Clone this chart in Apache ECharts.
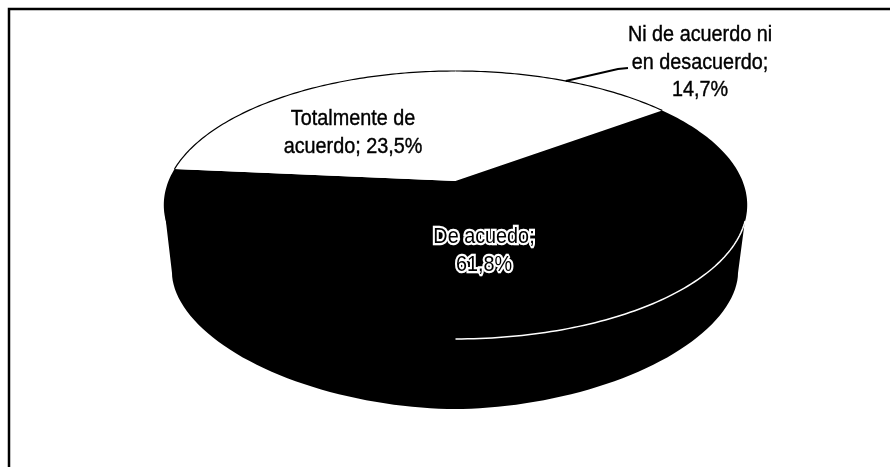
<!DOCTYPE html>
<html><head><meta charset="utf-8">
<style>html,body{margin:0;padding:0;background:#fff}#c{width:890px;height:467px}</style>
<script src="https://cdn.jsdelivr.net/npm/echarts@6/dist/echarts.min.js"></script>
</head><body><div id="c"></div>
<script>
const categories = ['Ni de acuerdo ni en desacuerdo', 'De acuedo', 'Totalmente de acuerdo'];
const values = [14.7, 61.8, 23.5];
const labelTexts = ['Ni de acuerdo ni\nen desacuerdo;\n14,7%', 'De acuedo;\n61,8%', 'Totalmente de\nacuerdo; 23,5%'];
const sliceColors = ['#ffffff', '#000000', '#ffffff'];

const total = values.reduce((a, b) => a + b, 0);
const apex = { x: 455.5, y: 181 }, A = 287, B = 129.7, P = 0.179;
function proj(deg) {
  const t = deg * Math.PI / 180, u = Math.cos(t), v = Math.sin(t), w = 1 + P * v;
  return [apex.x + A * u / w, apex.y - B * v / w];
}
function arc(from, to) {
  const pts = [], n = Math.max(2, Math.ceil(Math.abs(to - from)));
  for (let i = 0; i <= n; i++) pts.push(proj(from + (to - from) * i / n));
  return pts;
}
function wallPoints() {
  const pts = [[747, 205]], cx = 455, cy = 273, a = 283, b = 136, e = 1.08;
  for (let d = 0; d <= 180; d += 2) {
    const t = d * Math.PI / 180, c = Math.cos(t), s = Math.sin(t);
    pts.push([cx + a * Math.sign(c) * Math.pow(Math.abs(c), e), cy + b * Math.pow(s, e)]);
  }
  pts.push([164, 205]);
  return pts;
}
const labelPos = [[700, 62.5], [484, 251], [353, 133]];
const labelLineHeight = [27.5, 28, 27.5];
const font = 'Liberation Sans, Arial, sans-serif';

function renderItem(params, api) {
  const i = params.dataIndex;
  let before = 0;
  for (let k = 0; k < i; k++) before += values[k];
  const start = 90 - before / total * 360;
  const end = start - api.value(0) / total * 360;
  const mid = (start + end) / 2;
  const dark = sliceColors[i] === '#000000';
  const children = [];
  if (dark) {
    children.push({ type: 'polygon', shape: { points: wallPoints() }, style: { fill: sliceColors[i] } });
  }
  children.push({
    type: 'polygon',
    shape: { points: [[apex.x, apex.y]].concat(arc(start, end)) },
    style: { fill: sliceColors[i] }
  });
  if (dark) {
    children.push({ type: 'polyline', shape: { points: arc(-90, -17) }, style: { fill: 'none', stroke: '#fff', lineWidth: 1.5 } });
  } else {
    children.push({ type: 'polyline', shape: { points: arc(start, end) }, style: { fill: 'none', stroke: '#000', lineWidth: 1.2 } });
  }
  if (i === 0) {
    children.push({ type: 'polyline', shape: { points: [proj(mid), [618, 69], [628, 68]] }, style: { fill: 'none', stroke: '#000', lineWidth: 2 } });
  }
  const ts = dark
    ? { text: labelTexts[i], fill: '#000', stroke: '#fff', lineWidth: 4.5, strokeFirst: true }
    : { text: labelTexts[i], fill: '#000', stroke: '#000', lineWidth: 0.4 };
  children.push({
    type: 'text', x: labelPos[i][0], y: labelPos[i][1], scaleX: 0.9, z2: 10,
    style: Object.assign(ts, { font: '22px ' + font, lineHeight: labelLineHeight[i], align: 'center', verticalAlign: 'middle' })
  });
  return { type: 'group', children };
}

const chart = echarts.init(document.getElementById('c'), null, { renderer: 'canvas' });
chart.setOption({
  animation: false,
  backgroundColor: '#ffffff',
  graphic: [{ type: 'rect', z: -1, shape: { x: 9, y: 9, width: 900, height: 480 }, style: { fill: 'none', stroke: '#000', lineWidth: 2.5 } }],
  series: [{
    type: 'custom',
    coordinateSystem: 'none',
    renderItem,
    data: categories.map((name, i) => ({ name, value: [values[i]] }))
  }]
});
</script></body></html>
